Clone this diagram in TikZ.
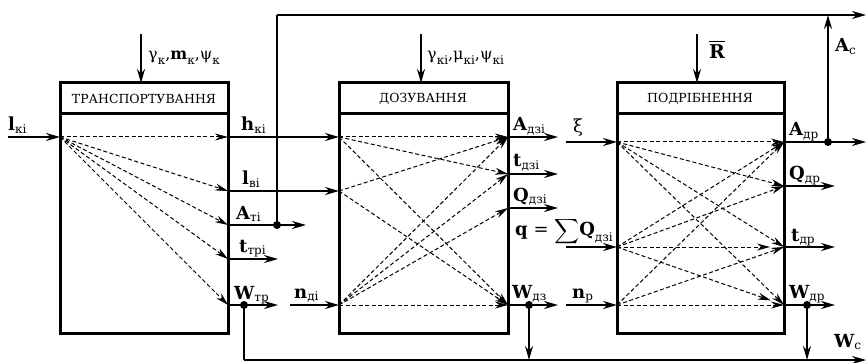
\documentclass[tikz,border=0pt]{standalone}
\usepackage{exscale}
\usepackage{fontspec}
\setmainfont{DejaVu Serif}
\usetikzlibrary{arrows.meta}
\newcommand\sbs[1]{\raisebox{-0.55ex}{\fontsize{12}{12}\selectfont\mdseries #1}}
\newcommand\lb[2]{{\fontsize{18}{18}\selectfont\bfseries #1}\sbs{#2}}
\tikzset{
  boxline/.style={line width=3pt},
  sig/.style={line width=1.9pt,-{Stealth[length=14pt,width=8pt]}},
  wire/.style={line width=1.9pt},
  dsh/.style={line width=1pt,dash pattern=on 4pt off 2.5pt,-{Stealth[length=13pt,width=7pt]}},
  lab/.style={inner sep=0pt,anchor=base west},
  ttl/.style={inner sep=0pt,font=\fontsize{12.5}{12.5}\selectfont},
  dotn/.style={circle,fill,inner sep=0pt,minimum size=8pt}
}
\begin{document}
\begin{tikzpicture}[x=1pt,y=-1pt]
\useasboundingbox (0,0) rectangle (866,363);
% blocks
\draw[boxline] (60,83) rectangle (228,333); \draw[boxline] (60,114) -- (228,114);
\draw[boxline] (339,83) rectangle (508,333); \draw[boxline] (339,114) -- (508,114);
\draw[boxline] (617,83) rectangle (784,333); \draw[boxline] (617,114) -- (784,114);
\node[ttl] (t1) at (144,99) {ТРАНСПОРТУВАННЯ};
\node[ttl] (t2) at (423,99) {ДОЗУВАННЯ};
\node[ttl] (t3) at (700,99) {ПОДРІБНЕННЯ};
% top inputs
\coordinate (p1) at (141,34); \coordinate (q1) at (141,83);
\coordinate (p2) at (421,34); \coordinate (q2) at (421,83);
\coordinate (p3) at (697,34); \coordinate (q3) at (697,83);
\draw[sig] (p1) -- (q1); \draw[sig] (p2) -- (q2); \draw[sig] (p3) -- (q3);
\node[lab] (g1) at (148,60) {\fontsize{16}{16}\selectfont γ\sbs{к},\textbf{m}\sbs{к},ψ\sbs{к}};
\node[lab] (g2) at (427,60) {\fontsize{16}{16}\selectfont γ\sbs{кі},μ\sbs{кі},ψ\sbs{кі}};
\node[lab] (gr) at (709,59) {\fontsize{19}{19}\selectfont\bfseries R};
\draw[line width=1.8pt] ([yshift=3.5pt]gr.north west) -- ([yshift=3.5pt]gr.north east);
% ports block 1
\coordinate (i1) at (60,137);
\coordinate (o1a) at (228,137); \coordinate (o1b) at (228,191); \coordinate (o1c) at (228,225);
\coordinate (o1d) at (228,259); \coordinate (o1e) at (228,305);
% ports block 2
\coordinate (i2a) at (339,137); \coordinate (i2b) at (339,191); \coordinate (i2c) at (339,305);
\coordinate (o2a) at (508,137); \coordinate (o2b) at (508,174); \coordinate (o2c) at (508,208); \coordinate (o2d) at (508,305);
% ports block 3
\coordinate (i3a) at (617,142); \coordinate (i3b) at (617,247); \coordinate (i3c) at (617,305);
\coordinate (o3a) at (784,142); \coordinate (o3b) at (784,186); \coordinate (o3c) at (784,247); \coordinate (o3d) at (784,305);
% inputs outside
\coordinate (s1) at (8,137); \draw[sig] (s1) -- (i1);
\node[lab] (llk) at (8,131) {\lb{l}{кі}};
\draw[sig] (o1a) -- (i2a); \node[lab] (lhk) at (241,131) {\lb{h}{кі}};
\draw[sig] (o1b) -- (i2b); \node[lab] (llv) at (242,185) {\lb{l}{ві}};
\coordinate (e1c) at (306,225); \draw[sig] (o1c) -- (e1c); \node[lab] (lat) at (236,219) {\lb{A}{ті}};
\coordinate (e1d) at (278,259); \draw[sig] (o1d) -- (e1d); \node[lab] (ltt) at (239,252) {\lb{t}{трі}};
\coordinate (e1e) at (278,305); \draw[sig] (o1e) -- (e1e); \node[lab] (lwt) at (234,299) {\lb{W}{тр}};
\coordinate (s2) at (290,305); \draw[sig] (s2) -- (i2c); \node[lab] (lnd) at (294,298) {\lb{n}{ді}};
% feedback top
\node[dotn] (d1) at (277,225) {};
\coordinate (f1) at (277,15); \coordinate (f2) at (866,15);
\draw[wire] (d1.center) -- (f1); \draw[sig] (f1) -- (f2);
% bottom line
\node[dotn] (d2) at (244,305) {};
\coordinate (b1) at (244,360); \coordinate (b2) at (866,360);
\draw[wire] (d2.center) -- (b1); \draw[sig] (b1) -- (b2);
% block 2 outputs
\coordinate (e2a) at (558,137); \draw[sig] (o2a) -- (e2a); \node[lab] (lad) at (513,131) {\lb{A}{дзі}};
\coordinate (e2b) at (558,174); \draw[sig] (o2b) -- (e2b); \node[lab] (ltd) at (513,167) {\lb{t}{дзі}};
\coordinate (e2c) at (558,208); \draw[sig] (o2c) -- (e2c); \node[lab] (lqd) at (513,201) {\lb{Q}{дзі}};
\coordinate (e2d) at (558,305); \draw[sig] (o2d) -- (e2d); \node[lab] (lwd) at (512,298) {\lb{W}{дз}};
\node[dotn] (d3) at (529,305) {};
\coordinate (b3) at (529,360); \draw[sig] (d3.center) -- (b3);
% block 3 inputs
\coordinate (s3a) at (566,142); \draw[sig] (s3a) -- (i3a); \node[lab] (lxi) at (573,133) {\fontsize{18}{18}\selectfont ξ};
\coordinate (s3b) at (566,247); \draw[sig] (s3b) -- (i3b);
\node[lab] (lsum) at (515,236) {\fontsize{18}{18}\selectfont{\bfseries q} = $\displaystyle\sum$\lb{Q}{дзі}};
\coordinate (s3c) at (566,305); \draw[sig] (s3c) -- (i3c); \node[lab] (lnp) at (572,298) {\lb{n}{р}};
% block 3 outputs
\coordinate (e3a) at (866,142); \draw[sig] (o3a) -- (e3a); \node[lab] (lar) at (789,136) {\lb{A}{др}};
\node[dotn] (d4) at (828,142) {};
\coordinate (u4) at (828,15);
\draw[sig] (d4.center) -- (u4);
\node[lab] (lac) at (835,52) {\lb{A}{с}};
\coordinate (e3b) at (835,186); \draw[sig] (o3b) -- (e3b); \node[lab] (lqr) at (789,180) {\lb{Q}{др}};
\coordinate (e3c) at (835,247); \draw[sig] (o3c) -- (e3c); \node[lab] (ltr) at (791,241) {\lb{t}{др}};
\coordinate (e3d) at (835,305); \draw[sig] (o3d) -- (e3d); \node[lab] (lwr) at (789,298) {\lb{W}{др}};
\node[dotn] (d5) at (807,305) {};
\coordinate (b5) at (807,360); \draw[sig] (d5.center) -- (b5);
\node[lab] (lwc) at (834,347) {\lb{W}{с}};
% dashed block 1
\foreach \t in {o1a,o1b,o1c,o1d,o1e} \draw[dsh] (i1) -- (\t);
% dashed block 2
\foreach \t in {o2a,o2b,o2d} \draw[dsh] (i2a) -- (\t);
\foreach \t in {o2a,o2d} \draw[dsh] (i2b) -- (\t);
\foreach \t in {o2a,o2b,o2c,o2d} \draw[dsh] (i2c) -- (\t);
% dashed block 3
\foreach \t in {o3a,o3b,o3c,o3d} \draw[dsh] (i3a) -- (\t);
\draw[dsh] (i3b) -- (o3a); \draw[dsh] (i3b) -- (o3b);
\draw[dsh,shorten >=14pt] (i3b) -- (o3c); \draw[dsh,shorten >=14pt] (i3b) -- (o3d);
\foreach \t in {o3a,o3c,o3d} \draw[dsh] (i3c) -- (\t);
\end{tikzpicture}
\end{document}
